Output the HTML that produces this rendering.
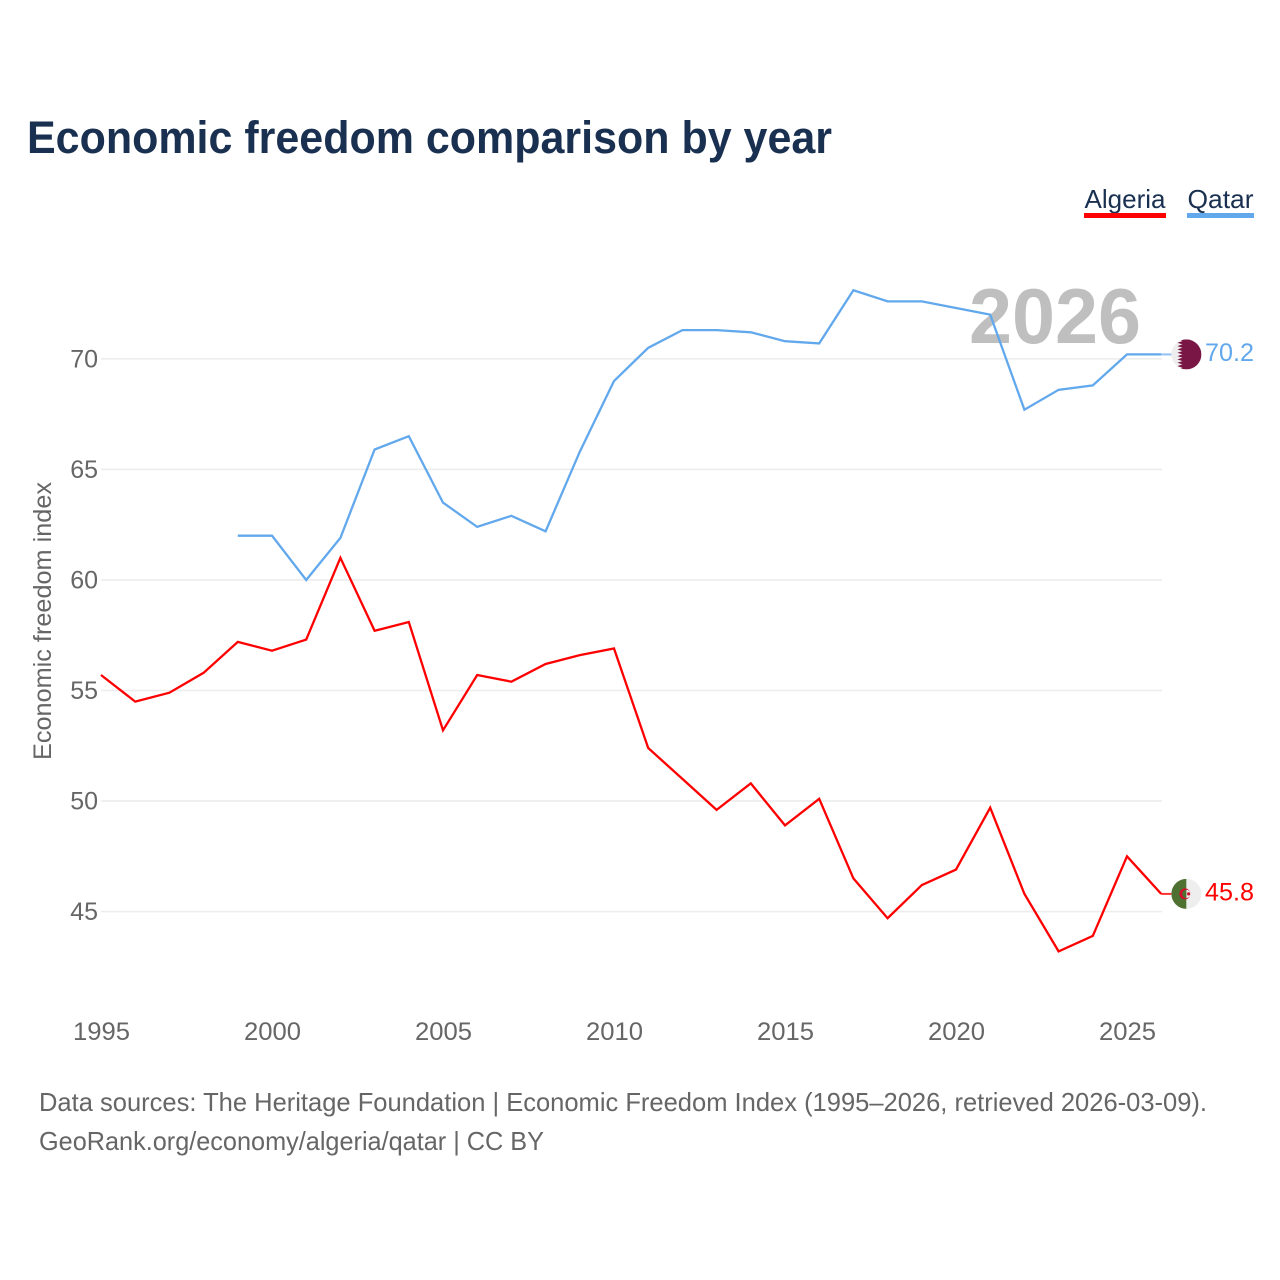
<!DOCTYPE html>
<html>
<head>
<meta charset="utf-8">
<title>Economic freedom comparison by year</title>
<style>
html,body{margin:0;padding:0;background:#fff;}
svg{display:block;font-family:"Liberation Sans",sans-serif;}
</style>
</head>
<body>
<svg id="chart" width="1280" height="1280" viewBox="0 0 1280 1280" xmlns="http://www.w3.org/2000/svg">
<defs>
<clipPath id="flag-clip-qa"><circle id="clip-qa" r="15"></circle></clipPath>
<clipPath id="flag-clip-dz"><circle id="clip-dz" r="15"></circle></clipPath>
</defs>
<rect width="1280" height="1280" fill="#fff"></rect>
<text x="27" y="153" font-size="45" font-weight="700" fill="#1a3050" textLength="805" lengthAdjust="spacingAndGlyphs">Economic freedom comparison by year</text>
<g id="grid"></g>
<text id="year-watermark" x="1055" y="343" font-size="78" font-weight="700" fill="#bfbfbf" text-anchor="middle" textLength="172" lengthAdjust="spacingAndGlyphs">2026</text>
<g id="y-ticks"></g>
<g id="x-ticks"></g>
<text transform="translate(51,621) rotate(-90)" font-size="25" fill="#666" text-anchor="middle" textLength="278" lengthAdjust="spacingAndGlyphs">Economic freedom index</text>
<g id="series"></g>
<g id="legend">
<g>
<text x="1084.5" y="208" font-size="26" fill="#1a3050" textLength="81" lengthAdjust="spacingAndGlyphs">Algeria</text>
<rect x="1084" y="213" width="82" height="5" fill="#ff0000"></rect>
</g>
<g>
<text x="1187.5" y="208" font-size="26" fill="#1a3050" textLength="66" lengthAdjust="spacingAndGlyphs">Qatar</text>
<rect x="1187" y="213" width="67" height="5" fill="#62a8ec"></rect>
</g>
</g>
<g id="end-markers"></g>
<text x="39" y="1111" font-size="26" fill="#666" textLength="1168" lengthAdjust="spacingAndGlyphs">Data sources: The Heritage Foundation | Economic Freedom Index (1995–2026, retrieved 2026-03-09).</text>
<text x="39" y="1150" font-size="26" fill="#666" textLength="505" lengthAdjust="spacingAndGlyphs">GeoRank.org/economy/algeria/qatar | CC BY</text>
</svg>
<script>
const years = [1995,1996,1997,1998,1999,2000,2001,2002,2003,2004,2005,2006,2007,2008,2009,2010,2011,2012,2013,2014,2015,2016,2017,2018,2019,2020,2021,2022,2023,2024,2025,2026];
const algeriaValues = [55.7,54.5,54.9,55.8,57.2,56.8,57.3,61.0,57.7,58.1,53.2,55.7,55.4,56.2,56.6,56.9,52.4,51.0,49.6,50.8,48.9,50.1,46.5,44.7,46.2,46.9,49.7,45.8,43.2,43.9,47.5,45.8];
const qatarValues = [null,null,null,null,62.0,62.0,60.0,61.9,65.9,66.5,63.5,62.4,62.9,62.2,65.8,69.0,70.5,71.3,71.3,71.2,70.8,70.7,73.1,72.6,72.6,72.3,72.0,67.7,68.6,68.8,70.2,70.2];
const yTickValues = [45,50,55,60,65,70];
const xTickValues = [1995,2000,2005,2010,2015,2020,2025];

const NS = 'http://www.w3.org/2000/svg';
function xScale(year){ return 101 + (year - 1995) * 34.2; }
function yScale(v){ return 911.6 - (v - 45) * 22.11; }
function make(tag, attrs, parent){
  const el = document.createElementNS(NS, tag);
  for (const k in attrs) el.setAttribute(k, attrs[k]);
  parent.appendChild(el);
  return el;
}
const grid = document.getElementById('grid');
const yTicks = document.getElementById('y-ticks');
const xTicks = document.getElementById('x-ticks');
const seriesGroup = document.getElementById('series');
const markers = document.getElementById('end-markers');

yTickValues.forEach(function(v){
  const line = make('line', {x1:101, x2:1162, y1:yScale(v), y2:yScale(v), stroke:'#ececec', 'stroke-width':1.5}, grid);
  
  
  const label = make('text', {x:98, y:yScale(v) + 8.4, 'font-size':25, fill:'#666', 'text-anchor':'end'}, yTicks);
  
  
  label.textContent = v;
});
xTickValues.forEach(function(y){
  const label = make('text', {x:xScale(y) + 0.5, y:1040, 'font-size':25, fill:'#666', 'text-anchor':'middle', textLength:57, lengthAdjust:'spacingAndGlyphs'}, xTicks);
  
  
  label.textContent = y;
});
function pathFor(values){
  let d = '';
  values.forEach(function(v, i){
    if (v === null) return;
    d += (d ? 'L' : 'M') + xScale(years[i]).toFixed(1) + ' ' + yScale(v).toFixed(1);
  });
  return d;
}
const algeriaLine = make('path', {d:pathFor(algeriaValues), fill:'none', stroke:'#ff0000', 'stroke-width':2.3, 'stroke-linejoin':'miter'}, seriesGroup);


const qatarLine = make('path', {d:pathFor(qatarValues), fill:'none', stroke:'#62a8ec', 'stroke-width':2.3, 'stroke-linejoin':'miter'}, seriesGroup);



const lastIndex = years.length - 1;
const lastX = xScale(years[lastIndex]);
const flagX = lastX + 25.2;

// Qatar end marker
const qaValue = qatarValues[lastIndex];
const qaY = yScale(qaValue);
const qaConn = make('line', {x1:lastX, x2:flagX - 15, y1:qaY, y2:qaY, stroke:'#62a8ec', 'stroke-width':2, opacity:0.7}, markers);


document.getElementById('clip-qa').setAttribute('cx', flagX);
document.getElementById('clip-qa').setAttribute('cy', qaY);
const qaFlag = make('g', {'clip-path':'url(#flag-clip-qa)'}, markers);


make('rect', {x:flagX - 15, y:qaY - 15, width:30, height:30, fill:'#eeeeee'}, qaFlag);
let zig = 'M' + (flagX + 15) + ' ' + (qaY - 15) + 'L' + (flagX - 9) + ' ' + (qaY - 15);
for (let i = 0; i < 9; i++) {
  zig += 'L' + (flagX - 4) + ' ' + (qaY - 15 + (i + 0.5) * 30 / 9);
  zig += 'L' + (flagX - 9) + ' ' + (qaY - 15 + (i + 1) * 30 / 9);
}
zig += 'L' + (flagX + 15) + ' ' + (qaY + 15) + 'Z';
make('path', {d:zig, fill:'#7a1645'}, qaFlag);
const qaLabel = make('text', {x:1205, y:qaY + 6.5, 'font-size':25, fill:'#62a8ec', textLength:49, lengthAdjust:'spacingAndGlyphs'}, markers);


qaLabel.textContent = qaValue.toFixed(1);

// Algeria end marker
const dzValue = algeriaValues[lastIndex];
const dzY = yScale(dzValue);
const dzConn = make('line', {x1:lastX, x2:flagX - 15, y1:dzY, y2:dzY, stroke:'#ff0000', 'stroke-width':2, opacity:0.8}, markers);


document.getElementById('clip-dz').setAttribute('cx', flagX);
document.getElementById('clip-dz').setAttribute('cy', dzY);
const dzFlag = make('g', {'clip-path':'url(#flag-clip-dz)'}, markers);


make('rect', {x:flagX - 15, y:dzY - 15, width:15, height:30, fill:'#4e7030'}, dzFlag);
make('rect', {x:flagX, y:dzY - 15, width:15, height:30, fill:'#eeeeee'}, dzFlag);
make('circle', {cx:flagX - 1.5, cy:dzY, r:5.5, fill:'#d2102e'}, dzFlag);
make('path', {d:'M' + flagX + ' ' + (dzY - 4.2) + 'A4.2 4.2 0 0 0 ' + flagX + ' ' + (dzY + 4.2) + 'Z', fill:'#4e7030'}, dzFlag);
make('path', {d:'M' + flagX + ' ' + (dzY - 4.2) + 'A4.2 4.2 0 0 1 ' + flagX + ' ' + (dzY + 4.2) + 'Z', fill:'#eeeeee'}, dzFlag);
make('circle', {cx:flagX + 2.2, cy:dzY, r:1.6, fill:'#d2102e'}, dzFlag);
const dzLabel = make('text', {x:1205, y:dzY + 6.5, 'font-size':25, fill:'#ff0000', textLength:49, lengthAdjust:'spacingAndGlyphs'}, markers);


dzLabel.textContent = dzValue.toFixed(1);
</script>
</body>
</html>
